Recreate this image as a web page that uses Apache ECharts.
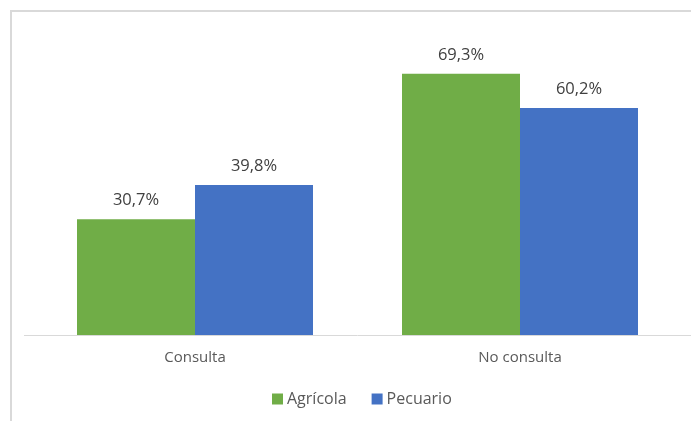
<!DOCTYPE html>
<html>
<head>
<meta charset="utf-8">
<script src="https://cdn.jsdelivr.net/npm/echarts@6/dist/echarts.min.js"></script>
<style>
html,body{margin:0;padding:0;background:#fff;}
#frame{position:absolute;left:10px;top:10px;width:720px;height:440px;border:2px solid #d9d9d9;box-sizing:border-box;}
#chart{position:absolute;left:0;top:0;width:691px;height:421px;}
</style>
</head>
<body>
<div id="frame"></div>
<div id="chart"></div>
<script>
const categories = ['Consulta', 'No consulta'];
const seriesNames = ['Agrícola', 'Pecuario'];
const agricola = [30.7, 69.3];
const pecuario = [39.8, 60.2];
const colors = ['#70AD47', '#4472C4'];

const font = '"Open Sans", sans-serif';
const chart = echarts.init(document.getElementById('chart'), null, {renderer: 'canvas'});
const labelCfg = {
  show: true,
  position: 'top',
  distance: 10,
  color: '#404040',
  fontSize: 16.5,
  fontFamily: font,
  formatter: p => p.value.toFixed(1).replace('.', ',') + '%'
};
chart.setOption({
  animation: false,
  backgroundColor: 'transparent',
  grid: {left: 32.5, right: 8.5, top: 33.4, bottom: 86, containLabel: false},
  graphic: [{
    type: 'line',
    z: 1,
    shape: {x1: 24, y1: 335.5, x2: 691, y2: 335.5},
    style: {stroke: '#d9d9d9', lineWidth: 1}
  }],
  legend: {
    data: seriesNames,
    bottom: 9,
    left: 267,
    itemWidth: 11,
    itemHeight: 11,
    itemGap: 25,
    icon: 'rect',
    textStyle: {color: '#595959', fontSize: 16, fontFamily: font, padding: [0, 0, 0, -1]}
  },
  xAxis: {
    type: 'category',
    data: categories,
    axisLine: {show: false},
    axisTick: {show: false},
    axisLabel: {color: '#595959', fontSize: 15, fontFamily: font, margin: 15}
  },
  yAxis: {
    type: 'value',
    min: 0,
    max: 80,
    show: false,
    splitLine: {show: false}
  },
  series: [
    {name: seriesNames[0], type: 'bar', data: agricola, barWidth: 118, barGap: '0%', itemStyle: {color: colors[0]}, label: labelCfg, z: 2},
    {name: seriesNames[1], type: 'bar', data: pecuario, barWidth: 118, barGap: '0%', itemStyle: {color: colors[1]}, label: labelCfg, z: 2}
  ]
});
</script>
</body>
</html>
